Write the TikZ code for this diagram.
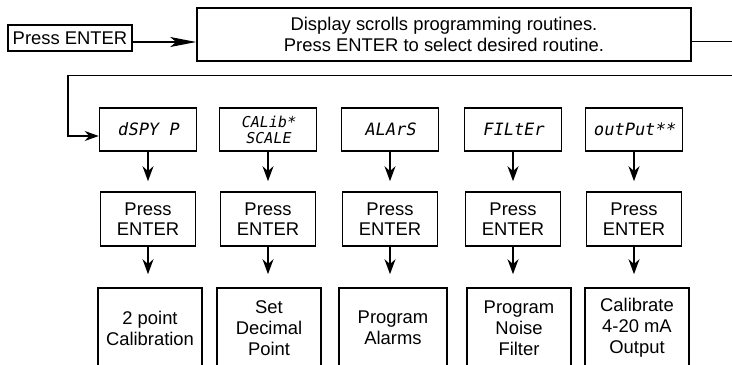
\documentclass[tikz,border=0pt]{standalone}
\usepackage{fontspec}
\setmainfont{Liberation Sans}
\newfontfamily\lcdfont[FakeSlant=0.18]{DejaVu Sans Mono}
\usetikzlibrary{positioning,arrows.meta}

\begin{document}
\begin{tikzpicture}[x=0.5pt, y=-0.5pt,
	box/.style={draw, line width=0.8pt, align=center, inner sep=0pt,
		font=\fontsize{9.2}{10.2}\selectfont},
	lcd/.style={box, minimum width=48.5pt, minimum height=21.5pt,
		font=\lcdfont\fontsize{8.5}{8}\selectfont},
	enter/.style={box, minimum width=47.5pt, minimum height=27pt},
	fim/.style={box, minimum width=52pt, minimum height=40pt,
		font=\fontsize{9.2}{10.5}\selectfont},
	seta/.style={-{Stealth[length=7.5pt, width=5.5pt]}, line width=0.8pt},
	setalonga/.style={-{Stealth[length=13pt, width=5pt, inset=3pt]}, line width=0.6pt}]
	\useasboundingbox (0,0) rectangle (732,364);
		% Top row
		\node [box, minimum width=62pt, minimum height=13pt] (press) at (70,38) {Press ENTER};
		\node [box, minimum width=247pt, minimum height=26.5pt] (scroll) at (444,34.5)
			{Display scrolls programming routines.\\Press ENTER to select desired routine.};
		\coordinate (saida) at (732,41);
		\coordinate (volta) at (732,75);
		\coordinate (canto) at (68,75);
		% Displays
		\node [lcd] (dspy)   at (148,129.5) {dSPY P};
		\node [lcd, font=\lcdfont\fontsize{7.5}{8}\selectfont] (calib) at (268,129.5) {CALib*\\SCALE};
		\node [lcd] (alars)  at (390,129.5) {ALArS};
		\node [lcd] (filter) at (513,129.5) {FILtEr};
		\node [lcd] (output) at (634,129.5) {outPut**};
		% Press ENTER
		\node [enter] (entA) at (148,219) {Press\\ENTER};
		\node [enter] (entB) at (268,219) {Press\\ENTER};
		\node [enter] (entC) at (390,219) {Press\\ENTER};
		\node [enter] (entD) at (513,219) {Press\\ENTER};
		\node [enter] (entE) at (634,219) {Press\\ENTER};
		% Routines
		\node [fim] (fimA) at (150,328) {2 point\\Calibration};
		\node [fim] (fimB) at (269,328) {Set\\Decimal\\Point};
		\node [fim, minimum width=54pt] (fimC) at (393,328) {Program\\Alarms};
		\node [fim] (fimD) at (519,328) {Program\\Noise\\Filter};
		\node [fim] (fimE) at (637,328) {Calibrate\\4-20 mA\\Output};
		% Connectors
		\draw [setalonga] ([yshift=-2pt]press.east) -- ([yshift=-2pt]press.east -| scroll.west);
		\draw [line width=0.5pt] (scroll.east |- saida) -- (saida);
		\draw [line width=0.5pt] (volta) -- (canto);
		\draw [-{Stealth[length=7pt, width=5pt]}, line width=0.8pt]
			(canto) |- ([yshift=-3.25pt]dspy.west);
		\draw [seta, shorten >=5pt] (dspy) -- (entA);
		\draw [seta, shorten >=5pt] (calib) -- (entB);
		\draw [seta, shorten >=5pt] (alars) -- (entC);
		\draw [seta, shorten >=5pt] (filter) -- (entD);
		\draw [seta, shorten >=5pt] (output) -- (entE);
		\draw [seta, shorten >=6.5pt] (entA) -- (entA |- fimA.north);
		\draw [seta, shorten >=6.5pt] (entB) -- (entB |- fimB.north);
		\draw [seta, shorten >=6.5pt] (entC) -- (entC |- fimC.north);
		\draw [seta, shorten >=6.5pt] (entD) -- (entD |- fimD.north);
		\draw [seta, shorten >=6.5pt] (entE) -- (entE |- fimE.north);
\end{tikzpicture}
\end{document}
